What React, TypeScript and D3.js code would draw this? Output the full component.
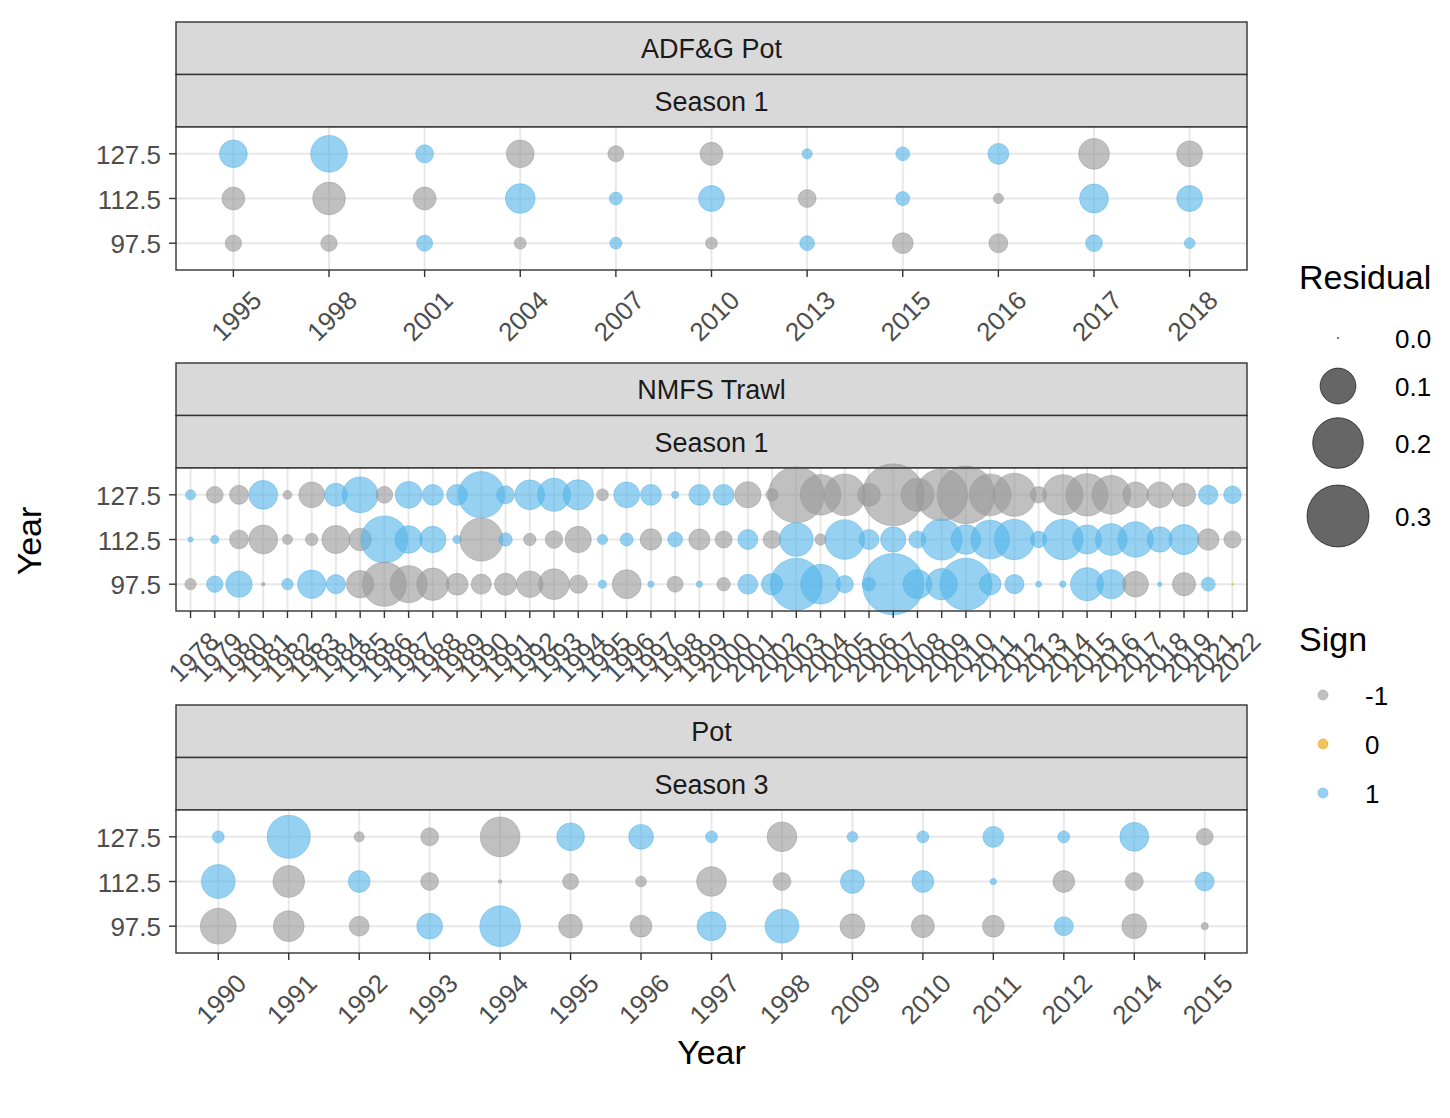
import { useEffect, useRef } from "react";
import * as d3 from "d3";

// row labels (discrete y), top to bottom
const ROW_LABELS = ["127.5", "112.5", "97.5"];

// ADF&G Pot, Season 1
const adfgYears = ["1995", "1998", "2001", "2004", "2007", "2010", "2013", "2015", "2016", "2017", "2018"];
const adfg127 = [0.06, 0.105, 0.025, -0.06, -0.02, -0.041, 0.008, 0.015, 0.034, -0.074, -0.052];
const adfg112 = [-0.041, -0.084, -0.041, 0.069, 0.013, 0.052, -0.025, 0.015, -0.008, 0.065, 0.052];
const adfg97 = [-0.021, -0.021, 0.02, -0.011, 0.011, -0.011, 0.017, -0.034, -0.028, 0.022, 0.009];

// NMFS Trawl, Season 1
const nmfsYears = [
  "1978", "1979", "1980", "1981", "1982", "1983", "1984", "1985", "1986", "1987", "1988",
  "1989", "1990", "1991", "1992", "1993", "1994", "1995", "1996", "1997", "1998", "1999",
  "2000", "2001", "2002", "2003", "2004", "2005", "2006", "2007", "2008", "2009", "2010",
  "2011", "2012", "2013", "2014", "2015", "2016", "2017", "2018", "2019", "2021", "2022",
];
const nmfs127 = [
  0.008, -0.022, -0.028, 0.065, -0.006, -0.052, 0.041, 0.1, -0.022, 0.056, 0.034,
  0.034, 0.168, 0.025, 0.069, 0.085, 0.072, -0.011, 0.052, 0.034, 0.004, 0.034,
  0.034, -0.054, -0.012, -0.245, -0.129, -0.136, -0.041, -0.3, -0.085, -0.21, -0.26,
  -0.136, -0.145, -0.021, -0.127, -0.14, -0.117, -0.052, -0.052, -0.042, 0.029, 0.024,
];
const nmfs112 = [
  0.002, 0.005, -0.028, -0.065, -0.008, -0.012, -0.062, -0.039, 0.173, 0.059, 0.054,
  0.005, -0.145, 0.014, -0.012, -0.024, -0.054, 0.008, 0.013, -0.036, 0.017, -0.035,
  -0.023, 0.031, -0.025, 0.089, -0.01, 0.123, 0.031, 0.05, 0.023, 0.132, 0.069,
  0.117, 0.127, 0.021, 0.127, 0.066, 0.079, 0.098, 0.05, 0.071, -0.036, -0.023,
];
const nmfs97 = [
  -0.01, 0.021, 0.054, -0.001, 0.01, 0.063, 0.029, -0.059, -0.153, -0.107, -0.082,
  -0.037, -0.032, -0.038, -0.055, -0.074, -0.026, 0.005, -0.065, 0.003, -0.02, 0.003,
  -0.014, 0.031, 0.036, 0.21, 0.123, 0.023, 0.014, 0.295, 0.065, 0.077, 0.21,
  0.036, 0.029, 0.0025, 0.003, 0.085, 0.066, -0.052, 0.0015, -0.042, 0.015, 0,
];

// Pot, Season 3
const potYears = ["1990", "1991", "1992", "1993", "1994", "1995", "1996", "1997", "1998", "2009", "2010", "2011", "2012", "2014", "2015"];
const pot127 = [0.011, 0.145, -0.008, -0.025, -0.123, 0.06, 0.048, 0.011, -0.069, 0.009, 0.011, 0.034, 0.011, 0.065, -0.022];
const pot112 = [0.089, -0.079, 0.037, -0.025, -0.001, -0.02, -0.009, -0.069, -0.025, 0.044, 0.037, 0.003, -0.037, -0.025, 0.028];
const pot97 = [-0.1, -0.074, -0.031, 0.052, 0.129, -0.044, -0.037, 0.065, 0.089, -0.048, -0.041, -0.037, 0.028, -0.048, -0.004];

const sizeBreaks = [0, 0.1, 0.2, 0.3];
const signLevels = ["-1", "0", "1"];
const signColors: Record<string, string> = { "-1": "#999999", "0": "#E69F00", "1": "#56B4E9" };

const FONT = "'Liberation Sans', Arial, Helvetica, sans-serif";
const PANEL_LEFT = 176;
const PANEL_RIGHT = 1247;
const PANEL_TOPS = [127, 468, 810];
const PANEL_H = 143;
const STRIP_H = 52.5;
const TITLE_SIZE = 34;
const TEXT_SIZE = 26;

const panels = [
  { fleet: "ADF&G Pot", season: "Season 1", years: adfgYears, rows: [adfg127, adfg112, adfg97] },
  { fleet: "NMFS Trawl", season: "Season 1", years: nmfsYears, rows: [nmfs127, nmfs112, nmfs97] },
  { fleet: "Pot", season: "Season 3", years: potYears, rows: [pot127, pot112, pot97] },
];

function signOf(v: number): string {
  if (v > 0) return "1";
  if (v < 0) return "-1";
  return "0";
}

export default function App() {
  const svgRef = useRef<SVGSVGElement>(null);

  useEffect(() => {
    const svgEl = svgRef.current;
    if (!svgEl) return;
    const svg = d3.select(svgEl);
    svg.selectAll("*").remove();

    const size = d3.scaleSqrt().domain([0, 0.3]).range([0, 31]);
    const radius = (v: number) => Math.max(0.8, size(Math.abs(v)));

    panels.forEach((p, i) => {
      const top = PANEL_TOPS[i];
      const bottom = top + PANEL_H;
      const g = svg.append("g");

      const x = d3.scalePoint<string>().domain(p.years).range([PANEL_LEFT, PANEL_RIGHT]).padding(0.6);
      const y = d3
        .scalePoint<string>()
        .domain([...ROW_LABELS].reverse())
        .range([bottom, top])
        .padding(0.6);

      // strips
      [p.fleet, p.season].forEach((label, k) => {
        const sy = top - STRIP_H * (2 - k);
        g.append("rect")
          .attr("x", PANEL_LEFT)
          .attr("y", sy)
          .attr("width", PANEL_RIGHT - PANEL_LEFT)
          .attr("height", STRIP_H)
          .attr("fill", "#D9D9D9")
          .attr("stroke", "#333333")
          .attr("stroke-width", 1.4);
        g.append("text")
          .attr("x", (PANEL_LEFT + PANEL_RIGHT) / 2)
          .attr("y", sy + STRIP_H / 2 + 1)
          .attr("text-anchor", "middle")
          .attr("dominant-baseline", "central")
          .attr("font-size", 27)
          .attr("fill", "#1A1A1A")
          .text(label);
      });

      // panel background + grid
      g.append("rect")
        .attr("x", PANEL_LEFT)
        .attr("y", top)
        .attr("width", PANEL_RIGHT - PANEL_LEFT)
        .attr("height", PANEL_H)
        .attr("fill", "#fff");

      g.selectAll(".vgrid")
        .data(p.years)
        .enter()
        .append("line")
        .attr("x1", (d) => x(d)!)
        .attr("x2", (d) => x(d)!)
        .attr("y1", top)
        .attr("y2", bottom)
        .attr("stroke", "#E8E8E8")
        .attr("stroke-width", 2);
      g.selectAll(".hgrid")
        .data(ROW_LABELS)
        .enter()
        .append("line")
        .attr("x1", PANEL_LEFT)
        .attr("x2", PANEL_RIGHT)
        .attr("y1", (d) => y(d)!)
        .attr("y2", (d) => y(d)!)
        .attr("stroke", "#E8E8E8")
        .attr("stroke-width", 2);

      // bubbles
      const pts = p.rows.flatMap((vals, r) =>
        vals.map((v, j) => ({ year: p.years[j], row: ROW_LABELS[r], v })),
      );
      g.selectAll(".pt")
        .data(pts)
        .enter()
        .append("circle")
        .attr("cx", (d) => x(d.year)!)
        .attr("cy", (d) => y(d.row)!)
        .attr("r", (d) => radius(d.v))
        .attr("fill", (d) => signColors[signOf(d.v)])
        .attr("fill-opacity", 0.62)
        .attr("stroke", (d) => signColors[signOf(d.v)])
        .attr("stroke-opacity", 0.5)
        .attr("stroke-width", 1);

      // border
      g.append("rect")
        .attr("x", PANEL_LEFT)
        .attr("y", top)
        .attr("width", PANEL_RIGHT - PANEL_LEFT)
        .attr("height", PANEL_H)
        .attr("fill", "none")
        .attr("stroke", "#333333")
        .attr("stroke-width", 1.4);

      // y axis
      ROW_LABELS.forEach((lab) => {
        g.append("line")
          .attr("x1", PANEL_LEFT - 7)
          .attr("x2", PANEL_LEFT)
          .attr("y1", y(lab)!)
          .attr("y2", y(lab)!)
          .attr("stroke", "#333333")
          .attr("stroke-width", 1.4);
        g.append("text")
          .attr("x", PANEL_LEFT - 15)
          .attr("y", y(lab)! + 1)
          .attr("text-anchor", "end")
          .attr("dominant-baseline", "central")
          .attr("font-size", TEXT_SIZE)
          .attr("fill", "#4D4D4D")
          .text(lab);
      });

      // x axis
      p.years.forEach((yr) => {
        const tx = x(yr)!;
        g.append("line")
          .attr("x1", tx)
          .attr("x2", tx)
          .attr("y1", bottom)
          .attr("y2", bottom + 7)
          .attr("stroke", "#333333")
          .attr("stroke-width", 1.4);
        g.append("text")
          .attr("transform", `translate(${tx + 3},${bottom + 46}) rotate(-45)`)
          .attr("text-anchor", "middle")
          .attr("dominant-baseline", "central")
          .attr("font-size", TEXT_SIZE)
          .attr("fill", "#4D4D4D")
          .text(yr);
      });
    });

    // axis titles
    svg.append("text")
      .attr("x", (PANEL_LEFT + PANEL_RIGHT) / 2)
      .attr("y", 1064)
      .attr("text-anchor", "middle")
      .attr("font-size", TITLE_SIZE)
      .attr("fill", "#000")
      .text("Year");
    svg.append("text")
      .attr("transform", "translate(41,541) rotate(-90)")
      .attr("text-anchor", "middle")
      .attr("font-size", TITLE_SIZE)
      .attr("fill", "#000")
      .text("Year");

    // size legend
    const leg = svg.append("g");
    leg.append("text").attr("x", 1299).attr("y", 289).attr("font-size", TITLE_SIZE).attr("fill", "#000").text("Residual");
    const sizeY = [338, 386, 443, 516];
    sizeBreaks.forEach((b, k) => {
      leg.append("circle")
        .attr("cx", 1338)
        .attr("cy", sizeY[k])
        .attr("r", Math.max(0.6, size(b)))
        .attr("fill", "#000")
        .attr("fill-opacity", 0.6)
        .attr("stroke", "#000")
        .attr("stroke-opacity", 0.6)
        .attr("stroke-width", 1);
      leg.append("text")
        .attr("x", 1395)
        .attr("y", sizeY[k] + 1)
        .attr("dominant-baseline", "central")
        .attr("font-size", TEXT_SIZE)
        .attr("fill", "#000")
        .text(d3.format(".1f")(b));
    });

    // sign legend
    leg.append("text").attr("x", 1299).attr("y", 651).attr("font-size", TITLE_SIZE).attr("fill", "#000").text("Sign");
    const signY = [695, 744, 793];
    signLevels.forEach((s, k) => {
      leg.append("circle")
        .attr("cx", 1323)
        .attr("cy", signY[k])
        .attr("r", 5)
        .attr("fill", signColors[s])
        .attr("fill-opacity", 0.62)
        .attr("stroke", signColors[s])
        .attr("stroke-opacity", 0.5);
      leg.append("text")
        .attr("x", 1365)
        .attr("y", signY[k] + 1)
        .attr("dominant-baseline", "central")
        .attr("font-size", TEXT_SIZE)
        .attr("fill", "#000")
        .text(s);
    });
  }, []);

  return (
    <svg
      ref={svgRef}
      width={1450}
      height={1118}
      style={{ position: "absolute", left: 0, top: 0, display: "block", background: "#fff", fontFamily: FONT }}
    />
  );
}
